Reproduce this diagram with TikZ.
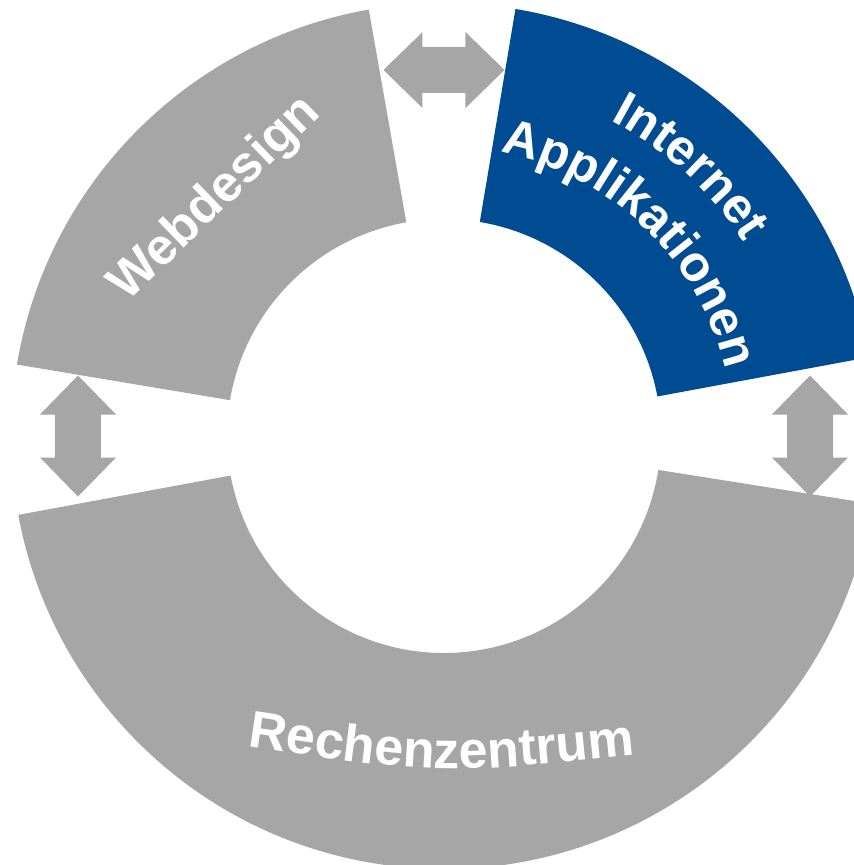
\documentclass[tikz,border=0pt]{standalone}
\usepackage{fontspec}
\setmainfont{Liberation Sans}
\usetikzlibrary{decorations.text}
\definecolor{ringgray}{RGB}{166,166,166}
\definecolor{ringblue}{RGB}{0,76,147}
\begin{document}
\begin{tikzpicture}[x=1pt,y=1pt]
\tikzset{
    part/.style={fill=\col},
    flow/.style={fill=ringgray},
    caption/.style={text=white, inner sep=0pt, font=\bfseries\fontsize{\fs}{60}\selectfont},
    bent caption/.style={decorate, decoration={text along path, text align=center,
        text color=white, text={|\bfseries\fontsize{\fs}{60}\selectfont|#1}}}}
\def\rin{217}
\def\rout{433}
\def\rarr{366}
\def\fs{50}

\useasboundingbox (-444,-429) rectangle (410,436);
\clip (-444,-429) rectangle (410,436);

\def\col{ringgray}
\fill[part] (100:\rin)arc(100:170.5:\rin)--(170.5:\rout)arc(170.5:100:\rout)--cycle;
\fill[part] (190.5:\rin)arc(190.5:351:\rin)--(351:\rout)arc(351:190.5:\rout)--cycle;
\def\col{ringblue}
\fill[part] (10.5:\rin)arc(10.5:80.5:\rin)--(80.5:\rout)arc(80.5:10.5:\rout)--cycle;

\foreach \a in {0,90,180}{
    \fill[flow, shift={(\a:\rarr)}, rotate=\a+90] (-60.5,0)--++(39,38)--++(0,-15)--++(43,0)--++(0,15)
        --(60.5,0)--++(-39,-38)--++(0,15)--++(-43,0)--++(0,-15)--cycle;
}

\path[bent caption=Internet] (80:357)arc(80:15:357);
\path[bent caption=Applikationen] (85:289)arc(85:7:289);
\def\fs{51}
\node[caption, rotate=44] (web) at (134:329) {Webdesign};
\def\fs{52}
\path[bent caption=Rechenzentrum] (-207,-309)..controls(-3,-339)..(202,-318);

\end{tikzpicture}
\end{document}
